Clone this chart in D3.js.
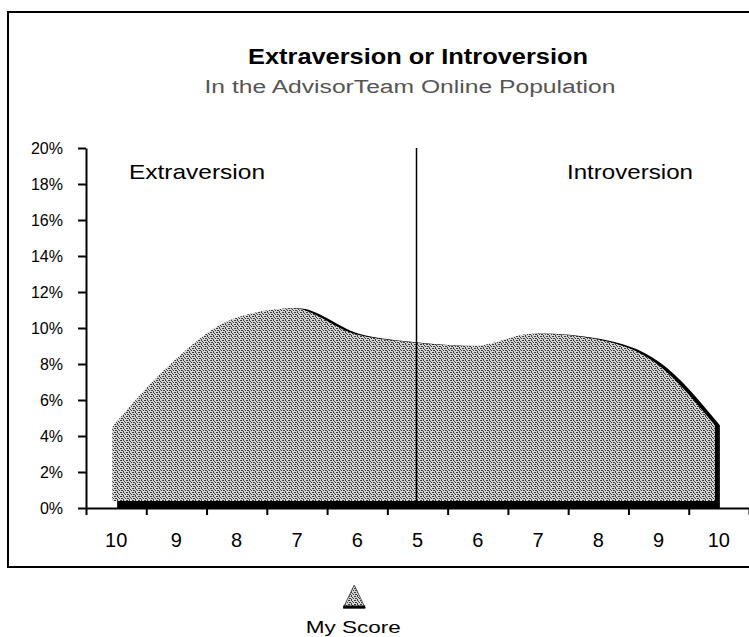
<!DOCTYPE html>
<html>
<head>
<meta charset="utf-8">
<script src="https://cdn.jsdelivr.net/npm/d3@7"></script>
<style>
  body { margin: 0; background: #fff; }
  svg { display: block; font-family: "Liberation Sans", Arial, sans-serif; }
</style>
</head>
<body>
<div class="chart-container"></div>
<script>
// Categories along the x axis (E = extraversion side, I = introversion side)
const categories = ["E10", "E9", "E8", "E7", "E6", "M5", "I6", "I7", "I8", "I9", "I10"];
const tickLabels = ["10", "9", "8", "7", "6", "5", "6", "7", "8", "9", "10"];
// Share of population (%) at each score
const population = [4.5, 8.1, 10.5, 11.1, 9.7, 9.2, 9.0, 9.7, 9.4, 8.1, 4.6];
const yTicks = [0, 2, 4, 6, 8, 10, 12, 14, 16, 18, 20];
const myScore = "E6";

const width = 749;
const height = 637;
const plotLeft = 86, plotRight = 749, plotTop = 148, plotBottom = 508;

const svg = d3.select(".chart-container").append("svg")
    .attr("width", width)
    .attr("height", height);

// dithered grey fill, like the old gif
const defs = svg.append("defs");
const pat = defs.append("pattern")
    .attr("id", "dither")
    .attr("patternUnits", "userSpaceOnUse")
    .attr("width", 6)
    .attr("height", 4);
pat.append("rect").attr("width", 6).attr("height", 4).attr("fill", "#d4d4d4");
const dots = [[0,0],[1,0],[3,0],[4,1],[1,2],[2,2],[5,2],[3,3]];
pat.selectAll("rect.dot")
    .data(dots)
    .join("rect")
    .attr("class", "dot")
    .attr("x", d => d[0])
    .attr("y", d => d[1])
    .attr("width", 1)
    .attr("height", 1)
    .attr("fill", "#3a3a3a");

const x = d3.scaleBand()
    .domain(categories)
    .range([plotLeft, plotRight])
    .padding(0);
const xEdge = d3.scaleLinear()
    .domain([0, categories.length])
    .range([plotLeft, plotRight]);
const y = d3.scaleLinear()
    .domain([0, 20])
    .range([plotBottom, plotTop]);

const cx = d => x(d) + x.bandwidth() / 2;

// outer frame
svg.append("rect")
    .attr("x", 8)
    .attr("y", 12)
    .attr("width", width)
    .attr("height", 555)
    .attr("fill", "none")
    .attr("stroke", "#000")
    .attr("stroke-width", 2);

// titles
svg.append("text")
    .attr("x", 418)
    .attr("y", 64)
    .attr("text-anchor", "middle")
    .attr("textLength", 340)
    .attr("lengthAdjust", "spacingAndGlyphs")
    .style("font-size", "22px")
    .style("font-weight", "bold")
    .text("Extraversion or Introversion");

svg.append("text")
    .attr("x", 410)
    .attr("y", 93)
    .attr("text-anchor", "middle")
    .attr("textLength", 411)
    .attr("lengthAdjust", "spacingAndGlyphs")
    .attr("fill", "#555")
    .style("font-size", "18px")
    .text("In the AdvisorTeam Online Population");

svg.append("text")
    .attr("x", 129)
    .attr("y", 179)
    .attr("textLength", 136)
    .attr("lengthAdjust", "spacingAndGlyphs")
    .style("font-size", "21px")
    .text("Extraversion");

svg.append("text")
    .attr("x", 567)
    .attr("y", 179)
    .attr("textLength", 126)
    .attr("lengthAdjust", "spacingAndGlyphs")
    .style("font-size", "21px")
    .text("Introversion");

// area with a 3D-ish black shadow
const pts = categories.map((c, i) => ({ c, v: population[i] }));
const curve = d3.curveMonotoneX;

const shadow = d3.area()
    .curve(curve)
    .x(d => cx(d.c) + 1)
    .y0(y(0))
    .y1(d => y(d.v));
svg.append("path")
    .datum(pts)
    .attr("d", shadow)
    .attr("fill", "#000");

const area = d3.area()
    .curve(curve)
    .x(d => cx(d.c) - 4)
    .y0(y(0) - 7)
    .y1(d => y(d.v));
svg.append("path")
    .datum(pts)
    .attr("d", area)
    .attr("fill", "url(#dither)");

// divider at the midpoint
svg.append("line")
    .attr("x1", cx("M5") - 1)
    .attr("x2", cx("M5") - 1)
    .attr("y1", y(20))
    .attr("y2", y(0))
    .attr("stroke", "#000")
    .attr("stroke-width", 1.5);

// y axis
const yAxis = svg.append("g")
    .attr("transform", `translate(${plotLeft},0)`)
    .call(d3.axisLeft(y)
        .tickValues(yTicks)
        .tickFormat(d => d + "%")
        .tickSize(8)
        .tickSizeOuter(0)
        .tickPadding(15));
yAxis.selectAll("path, line").attr("stroke", "#000").attr("stroke-width", 2);
yAxis.selectAll("text")
    .attr("fill", "#000")
    .style("font-size", "16px")
    .style("font-family", "'Liberation Sans', Arial, sans-serif");

// x axis: ticks at band edges, labels at band centres
const xTicks = svg.append("g")
    .attr("transform", `translate(0,${plotBottom})`)
    .call(d3.axisBottom(xEdge)
        .tickValues(d3.range(0, categories.length + 1))
        .tickFormat("")
        .tickSize(7)
        .tickSizeOuter(0));
xTicks.selectAll("path, line").attr("stroke", "#000").attr("stroke-width", 2);

const xLabels = svg.append("g")
    .attr("transform", `translate(0,${plotBottom})`)
    .call(d3.axisBottom(x)
        .tickFormat((d, i) => tickLabels[i])
        .tickSize(0)
        .tickPadding(25));
xLabels.select(".domain").remove();
xLabels.selectAll("text")
    .attr("fill", "#000")
    .style("font-size", "20px")
    .style("font-family", "'Liberation Sans', Arial, sans-serif");

// my score marker
const mx = cx(myScore) - 3;
svg.append("path")
    .attr("d", `M${mx},585 L${mx + 11},608 L${mx - 11},608 Z`)
    .attr("fill", "url(#dither)")
    .attr("stroke", "#555")
    .attr("stroke-width", 1);
svg.append("line")
    .attr("x1", mx - 11)
    .attr("x2", mx + 11)
    .attr("y1", 607)
    .attr("y2", 607)
    .attr("stroke", "#000")
    .attr("stroke-width", 3);

svg.append("text")
    .attr("x", mx - 1)
    .attr("y", 633)
    .attr("text-anchor", "middle")
    .attr("textLength", 95)
    .attr("lengthAdjust", "spacingAndGlyphs")
    .style("font-size", "17px")
    .text("My Score");
</script>
</body>
</html>
